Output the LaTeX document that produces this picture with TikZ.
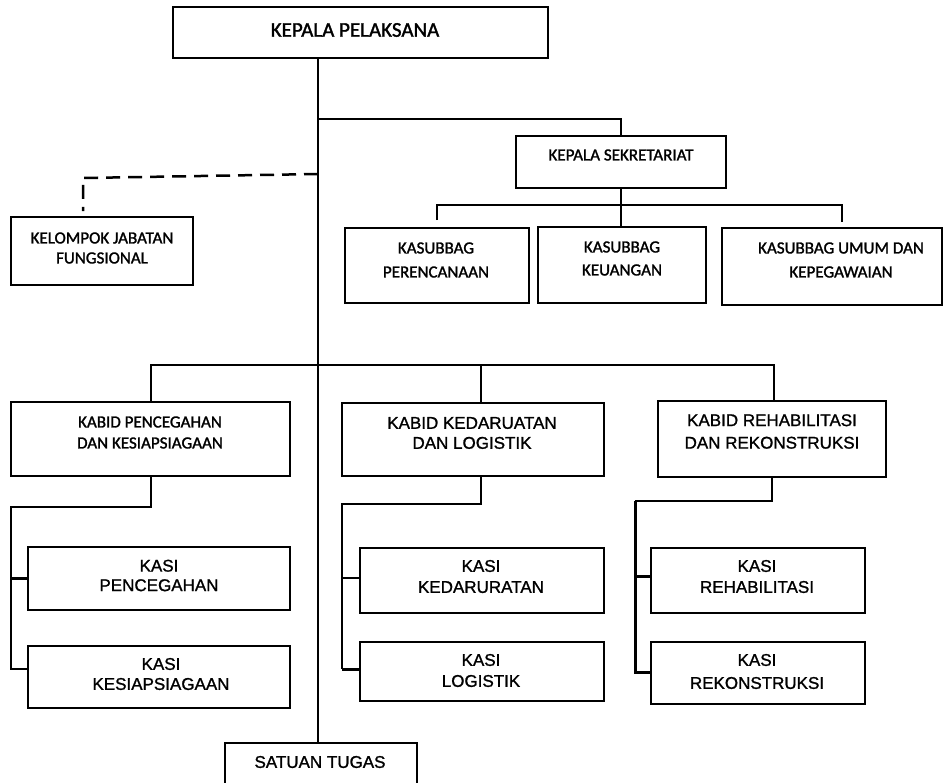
\documentclass[tikz,border=0pt]{standalone}
\usepackage{fontspec}
\newfontfamily\calfont[FakeBold=1.5]{Carlito}
\newfontfamily\arifont[FakeBold=1.2]{Liberation Sans}
\newcommand\orgbox[5]{\node[box, minimum width={(#4-#2)*1pt}, minimum height={(#5-#3)*1pt}] (#1) at ({(#2+#4)/2},{(#3+#5)/2}) {};}
\begin{document}
\begin{tikzpicture}[x=1pt,y=-1pt,
  box/.style={draw, line width=2pt, inner sep=0pt},
  ctext/.style={font={\calfont\fontsize{17pt}{23pt}\selectfont}, align=center, inner sep=0pt},
  atext/.style={font={\arifont\fontsize{17pt}{20pt}\selectfont}, align=center, inner sep=0pt},
  conn/.style={line width=2pt},
  thk/.style={line width=3pt},
  fnline/.style={line width=2.5pt, dash pattern=on 14pt off 8pt}]
\useasboundingbox (0,0) rectangle (952,782);
\clip (0,0) rectangle (952,782);
% boxes
\orgbox{kp}{173}{7}{548}{58}
\orgbox{ks}{516}{136}{726}{188}
\orgbox{kper}{345}{228}{529}{303}
\orgbox{kkeu}{538}{227}{706}{303}
\orgbox{kum}{722}{228}{942}{305}
\orgbox{kjf}{11}{217}{193}{285}
\orgbox{kpc}{11}{402}{290}{476}
\orgbox{kkl}{342}{403}{604}{476}
\orgbox{krr}{658}{401}{886}{477}
\orgbox{kspc}{28}{547}{290}{610}
\orgbox{kssg}{28}{646}{290}{708}
\orgbox{kskd}{360}{548}{604}{613}
\orgbox{kslg}{360}{642}{604}{701}
\orgbox{ksrh}{651}{548}{865}{613}
\orgbox{ksrk}{651}{642}{865}{704}
\orgbox{st}{225}{743}{417}{810}
% texts
\node[ctext, font={\calfont\fontsize{21pt}{25pt}\selectfont}] (kpt) at (355,30) {KEPALA PELAKSANA};
\node[ctext] (kst) at (621,155) {KEPALA SEKRETARIAT};
\node[ctext, font={\calfont\fontsize{17pt}{24pt}\selectfont}] (kpert) at (436,260) {KASUBBAG\\PERENCANAAN};
\node[ctext] (kkeut) at (622,258.5) {KASUBBAG\\KEUANGAN};
\node[ctext, font={\calfont\fontsize{17pt}{24pt}\selectfont}] (kumt) at (841,260) {KASUBBAG UMUM DAN\\KEPEGAWAIAN};
\node[ctext, font={\calfont\fontsize{17pt}{20pt}\selectfont}] (kjft) at (102,248) {KELOMPOK JABATAN\\FUNGSIONAL};
\node[ctext, font={\calfont\fontsize{17pt}{21pt}\selectfont}] (kpct) at (150,432.5) {KABID PENCEGAHAN\\DAN KESIAPSIAGAAN};
\node[atext] (kklt) at (472,433) {KABID KEDARUATAN\\DAN LOGISTIK};
\node[atext, font={\arifont\fontsize{17pt}{22.5pt}\selectfont}] (krrt) at (772,431.5) {KABID REHABILITASI\\DAN REKONSTRUKSI};
\node[atext, font={\arifont\fontsize{17pt}{19.5pt}\selectfont}] (kspct) at (159,575.5) {KASI\\PENCEGAHAN};
\node[atext] (kssgt) at (161,674) {KASI\\KESIAPSIAGAAN};
\node[atext, font={\arifont\fontsize{17pt}{21pt}\selectfont}] (kskdt) at (481,576.5) {KASI\\KEDARURATAN};
\node[atext, font={\arifont\fontsize{17pt}{21pt}\selectfont}] (kslgt) at (481,670.5) {KASI\\LOGISTIK};
\node[atext, font={\arifont\fontsize{17pt}{21pt}\selectfont}] (ksrht) at (757,576.5) {KASI\\REHABILITASI};
\node[atext, font={\arifont\fontsize{17pt}{23pt}\selectfont}] (ksrkt) at (757,671.5) {KASI\\REKONSTRUKSI};
\node[atext] (stt) at (320,762) {SATUAN TUGAS};
% coordinates
\coordinate (tr) at (318,0);
\coordinate (b1) at (318,119);
\coordinate (h2) at (842,205);
\coordinate (l2) at (481,365);
\coordinate (l3) at (774,365);
\coordinate (d1) at (318,174);
\coordinate (d2) at (83,178);
\coordinate (v1) at (11,507);
\coordinate (v1b) at (11,669);
\coordinate (v2) at (342,504);
\coordinate (v2b) at (342,669);
\coordinate (v2c) at (342,578);
\coordinate (v3) at (635,501);
\coordinate (v3b) at (635,672);
\coordinate (v3c) at (635,576);
% connectors
\draw[conn] (kp.south -| tr) -- (st.north -| tr);
\draw[conn] (b1) -| (ks.north);
\draw[conn] (ks.south) -- (ks.south |- kkeu.north);
\draw[conn, line width=2.5pt] ([yshift=7pt]kper.north) |- (h2) -- ([yshift=5pt]kum.north -| h2);
\draw[fnline] (d1) -- (d2) -- ([yshift=5pt]kjf.north -| d2);
\draw[conn] (kpc.north) |- (l3) -- (l3 |- krr.north);
\draw[conn] (l2) -- (l2 |- kkl.north);
% subtree 1
\draw[conn] (kpc.south) |- (v1) -- (v1b) -- (v1b -| kssg.west);
\draw[thk] (v1 |- kspc.west) -- (kspc.west);
% subtree 2
\draw[conn] (kkl.south -| l2) |- (v2) -- (v2b);
\draw[thk] (v2b) -- (v2b -| kslg.west);
\draw[conn] (v2c) -- (v2c -| kskd.west);
% subtree 3
\draw[conn] (krr.south) |- (v3);
\draw[thk] (v3) -- (v3b) -- (v3b -| ksrk.west);
\draw[thk] (v3c) -- (v3c -| ksrh.west);
\end{tikzpicture}
\end{document}
